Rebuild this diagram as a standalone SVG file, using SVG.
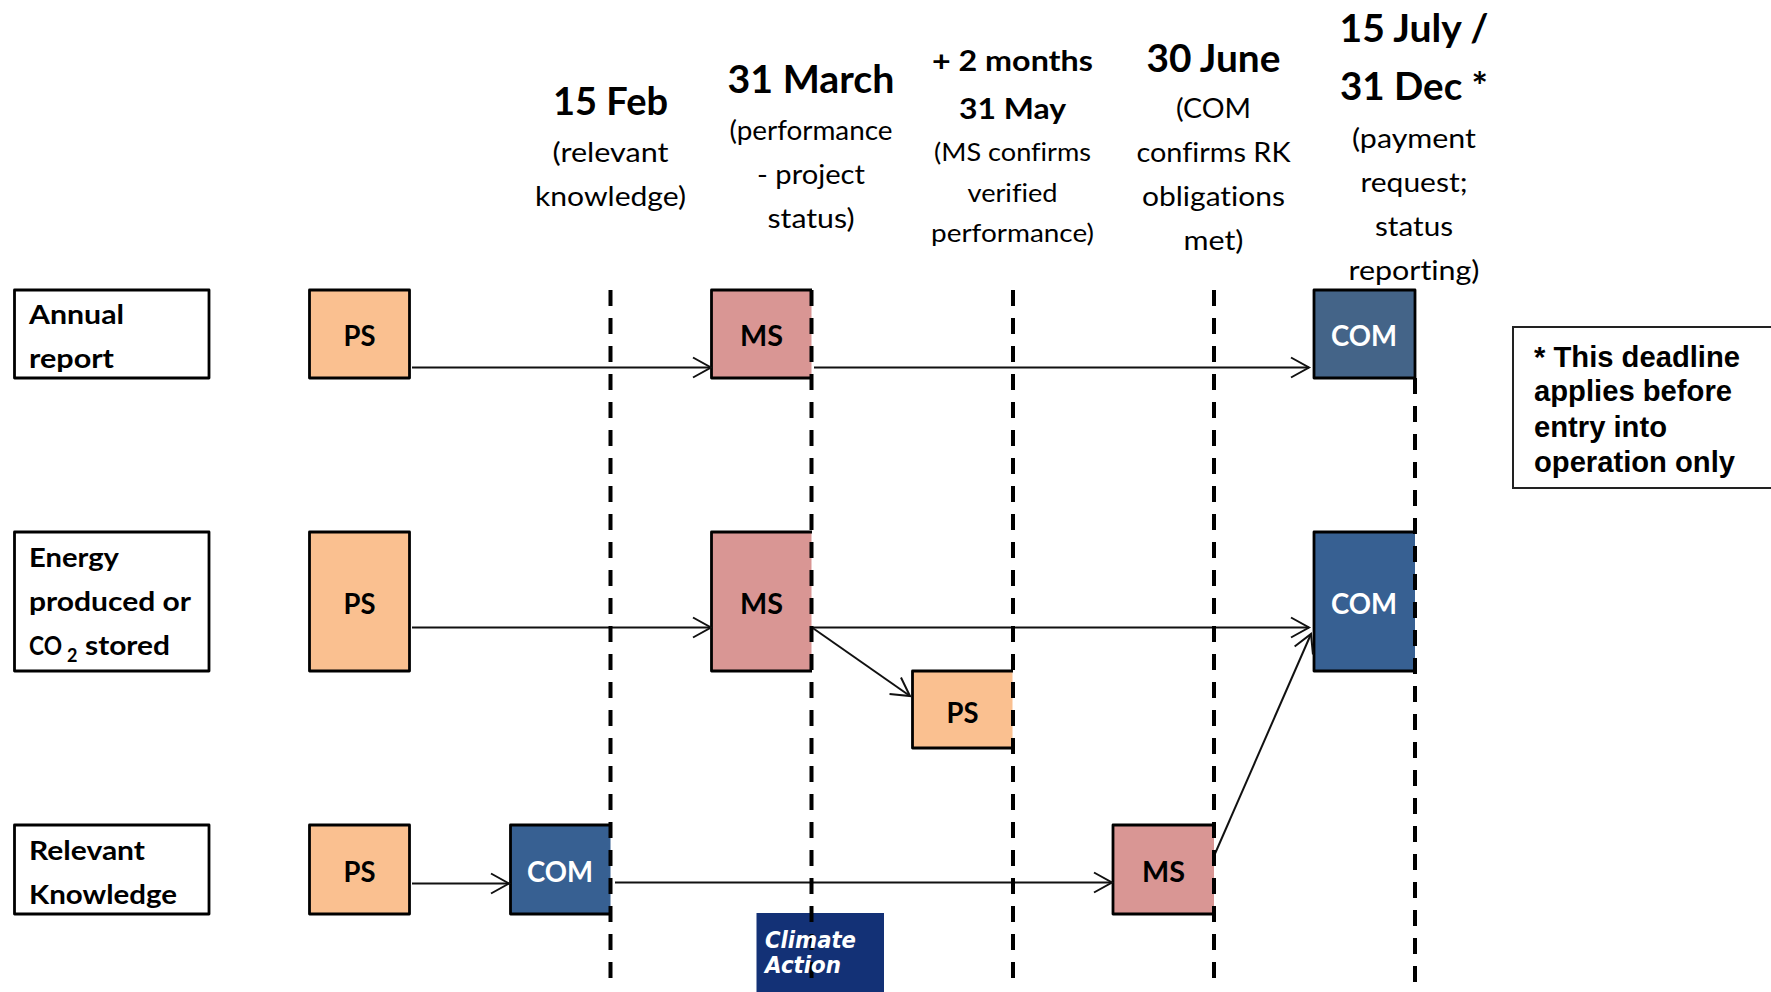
<svg xmlns="http://www.w3.org/2000/svg" width="1771" height="992" viewBox="0 0 1771 992">
<style>
text{font-family:"Lato","Carlito","Liberation Sans",sans-serif;fill:#000;font-variant-ligatures:none}
.c{text-anchor:middle}
.h1{font-size:39px;font-weight:700}
.h2{font-size:29px;font-weight:700}
.s{font-size:27px}
.s2{font-size:25px}
.l{font-size:27px;font-weight:700}
.n{font-size:28px;font-weight:700}
.w{fill:#fff}
.note{font-family:"Liberation Sans",Arial,sans-serif;font-size:29.3px;font-weight:700}
.ca{font-family:"DejaVu Sans",sans-serif;font-size:22.5px;font-weight:700;font-style:italic;fill:#fff}
.box{fill:#fff;stroke:#000;stroke-width:2.8;stroke-linejoin:round}
.edge{fill:none;stroke:#000;stroke-width:2.8;stroke-linejoin:round}
.ps{fill:#FAC090}.ms{fill:#D99694}.com{fill:#376092}.com1{fill:#446488}
.arrow{fill:none;stroke:#111;stroke-width:2;marker-end:url(#a)}
.dash{fill:none;stroke:#000;stroke-width:4;stroke-dasharray:16 12}
</style>
<defs>
<marker id="a" markerUnits="userSpaceOnUse" markerWidth="24" markerHeight="26" refX="19" refY="12" orient="auto">
<path d="M1 2L19 12L1 22" fill="none" stroke="#111" stroke-width="2"/>
</marker>
</defs>

<g id="row-labels">
<g id="label-annual"><rect class="box" x="14.5" y="290" width="194.5" height="88"/>
<text class="l" x="29" y="324" textLength="95" lengthAdjust="spacingAndGlyphs">Annual</text>
<text class="l" x="29" y="368" textLength="85" lengthAdjust="spacingAndGlyphs">report</text></g>
<g id="label-energy"><rect class="box" x="14.5" y="532" width="194.5" height="139"/>
<text class="l" x="29" y="566.5" textLength="90" lengthAdjust="spacingAndGlyphs">Energy</text>
<text class="l" x="29" y="610.5" textLength="162" lengthAdjust="spacingAndGlyphs">produced or</text>
<text class="l" x="29" y="654.5" textLength="33" lengthAdjust="spacingAndGlyphs">CO</text>
<text class="l" x="67" y="662" style="font-size:18px">2</text>
<text class="l" x="85" y="654.5" textLength="85" lengthAdjust="spacingAndGlyphs">stored</text></g>
<g id="label-knowledge"><rect class="box" x="14.5" y="825" width="194.5" height="89"/>
<text class="l" x="29" y="859.5" textLength="116" lengthAdjust="spacingAndGlyphs">Relevant</text>
<text class="l" x="29" y="903.5" textLength="148" lengthAdjust="spacingAndGlyphs">Knowledge</text></g>
</g>

<g id="headers">
<text class="h1 c" x="610.5" y="115" textLength="115" lengthAdjust="spacingAndGlyphs">15 Feb</text>
<text class="s c" x="610.5" y="162" textLength="116" lengthAdjust="spacingAndGlyphs">(relevant</text>
<text class="s c" x="610.5" y="205.5" textLength="151" lengthAdjust="spacingAndGlyphs">knowledge)</text>
<text class="h1 c" x="811" y="93" textLength="167" lengthAdjust="spacingAndGlyphs">31 March</text>
<text class="s c" x="811" y="140" textLength="163" lengthAdjust="spacingAndGlyphs">(performance</text>
<text class="s c" x="811" y="184" textLength="108" lengthAdjust="spacingAndGlyphs">- project</text>
<text class="s c" x="811" y="228" textLength="87" lengthAdjust="spacingAndGlyphs">status)</text>
<text class="h2 c" x="1012.5" y="70.5" textLength="161" lengthAdjust="spacingAndGlyphs">+ 2 months</text>
<text class="h2 c" x="1012.5" y="118.5" textLength="107" lengthAdjust="spacingAndGlyphs">31 May</text>
<text class="s2 c" x="1012.5" y="161" textLength="157" lengthAdjust="spacingAndGlyphs">(MS confirms</text>
<text class="s2 c" x="1012.5" y="202" textLength="90" lengthAdjust="spacingAndGlyphs">verified</text>
<text class="s2 c" x="1012.5" y="241.5" textLength="163" lengthAdjust="spacingAndGlyphs">performance)</text>
<text class="h1 c" x="1213.5" y="71.5" textLength="134" lengthAdjust="spacingAndGlyphs">30 June</text>
<text class="s c" x="1213.5" y="118" textLength="75" lengthAdjust="spacingAndGlyphs">(COM</text>
<text class="s c" x="1213.5" y="162" textLength="154" lengthAdjust="spacingAndGlyphs">confirms RK</text>
<text class="s c" x="1213.5" y="205.5" textLength="143" lengthAdjust="spacingAndGlyphs">obligations</text>
<text class="s c" x="1213.5" y="250" textLength="60" lengthAdjust="spacingAndGlyphs">met)</text>
<text class="h1 c" x="1414" y="42" textLength="149" lengthAdjust="spacingAndGlyphs">15 July /</text>
<text class="h1 c" x="1414" y="100" textLength="148" lengthAdjust="spacingAndGlyphs">31 Dec *</text>
<text class="s c" x="1414" y="148" textLength="124" lengthAdjust="spacingAndGlyphs">(payment</text>
<text class="s c" x="1414" y="192" textLength="107" lengthAdjust="spacingAndGlyphs">request;</text>
<text class="s c" x="1414" y="236" textLength="78" lengthAdjust="spacingAndGlyphs">status</text>
<text class="s c" x="1414" y="280" textLength="131" lengthAdjust="spacingAndGlyphs">reporting)</text>
</g>

<g id="node-ps-1"><rect class="ps" x="309.5" y="290" width="100" height="88"/><rect class="edge" x="309.5" y="290" width="100" height="88"/><text class="n c" x="359.5" y="346" textLength="32" lengthAdjust="spacingAndGlyphs">PS</text></g>
<g id="node-ps-2"><rect class="ps" x="309.5" y="532" width="100" height="139"/><rect class="edge" x="309.5" y="532" width="100" height="139"/><text class="n c" x="359.5" y="613.5" textLength="32" lengthAdjust="spacingAndGlyphs">PS</text></g>
<g id="node-ps-3"><rect class="ps" x="309.5" y="825" width="100" height="89"/><rect class="edge" x="309.5" y="825" width="100" height="89"/><text class="n c" x="359.5" y="881.5" textLength="32" lengthAdjust="spacingAndGlyphs">PS</text></g>
<g id="node-com-3"><rect class="com" x="510.5" y="825" width="100" height="89"/><path class="edge" d="M611 825H510.5V914H611"/><text class="n c w" x="560" y="881.5" textLength="66" lengthAdjust="spacingAndGlyphs">COM</text></g>
<g id="node-ms-1"><rect class="ms" x="711.5" y="290" width="100" height="88"/><path class="edge" d="M812 290H711.5V378H812"/><text class="n c" x="761.5" y="346" textLength="43" lengthAdjust="spacingAndGlyphs">MS</text></g>
<g id="node-ms-2"><rect class="ms" x="711.5" y="532" width="100" height="139"/><path class="edge" d="M812 532H711.5V671H812"/><text class="n c" x="761.5" y="613.5" textLength="43" lengthAdjust="spacingAndGlyphs">MS</text></g>
<g id="node-ps-4"><rect class="ps" x="912.5" y="671" width="100" height="77"/><path class="edge" d="M1013 671H912.5V748H1013"/><text class="n c" x="962.5" y="722.5" textLength="32" lengthAdjust="spacingAndGlyphs">PS</text></g>
<g id="node-ms-3"><rect class="ms" x="1113" y="825" width="101" height="89"/><path class="edge" d="M1214 825H1113V914H1214"/><text class="n c" x="1163.5" y="881.5" textLength="43" lengthAdjust="spacingAndGlyphs">MS</text></g>
<g id="node-com-1"><rect class="com1" x="1314" y="290" width="101" height="88"/><rect class="edge" x="1314" y="290" width="101" height="88"/><text class="n c w" x="1364" y="346" textLength="66" lengthAdjust="spacingAndGlyphs">COM</text></g>
<g id="node-com-2"><rect class="com" x="1314" y="532" width="101" height="139"/><path class="edge" d="M1415 532H1314V671H1415"/><text class="n c w" x="1364" y="613.5" textLength="66" lengthAdjust="spacingAndGlyphs">COM</text></g>

<g id="note"><rect x="1513" y="327" width="270" height="161" fill="#fff" stroke="#222" stroke-width="2"/>
<text class="note" x="1534" y="366.5" textLength="206" lengthAdjust="spacingAndGlyphs">* This deadline</text>
<text class="note" x="1534" y="401" textLength="198" lengthAdjust="spacingAndGlyphs">applies before</text>
<text class="note" x="1534" y="437" textLength="133" lengthAdjust="spacingAndGlyphs">entry into</text>
<text class="note" x="1534" y="472" textLength="201" lengthAdjust="spacingAndGlyphs">operation only</text></g>

<rect id="logo-bg" x="756.5" y="913" width="127.5" height="79" fill="#133176"/>

<g id="connectors">
<path class="arrow" d="M412 367.5H711"/>
<path class="arrow" d="M814 367.5H1309"/>
<path class="arrow" d="M412 627.5H711"/>
<path class="arrow" d="M812 627.5H1309"/>
<path class="arrow" d="M812 627.5L910 696"/>
<path class="arrow" d="M412 883.5H509"/>
<path class="arrow" d="M615 882.5H1112"/>
<path class="arrow" d="M1214 856L1311 634"/>
</g>

<g id="deadlines">
<path class="dash" d="M610.5 290V978"/>
<path class="dash" d="M811.5 290V978"/>
<path class="dash" d="M1013 290V978"/>
<path class="dash" d="M1214 290V978"/>
<path class="dash" d="M1415 378V982"/>
</g>

<g id="logo">
<text class="ca" x="765" y="947.5" textLength="91" lengthAdjust="spacingAndGlyphs">Climate</text>
<text class="ca" x="765" y="973" textLength="76" lengthAdjust="spacingAndGlyphs">Action</text>
</g>
</svg>
